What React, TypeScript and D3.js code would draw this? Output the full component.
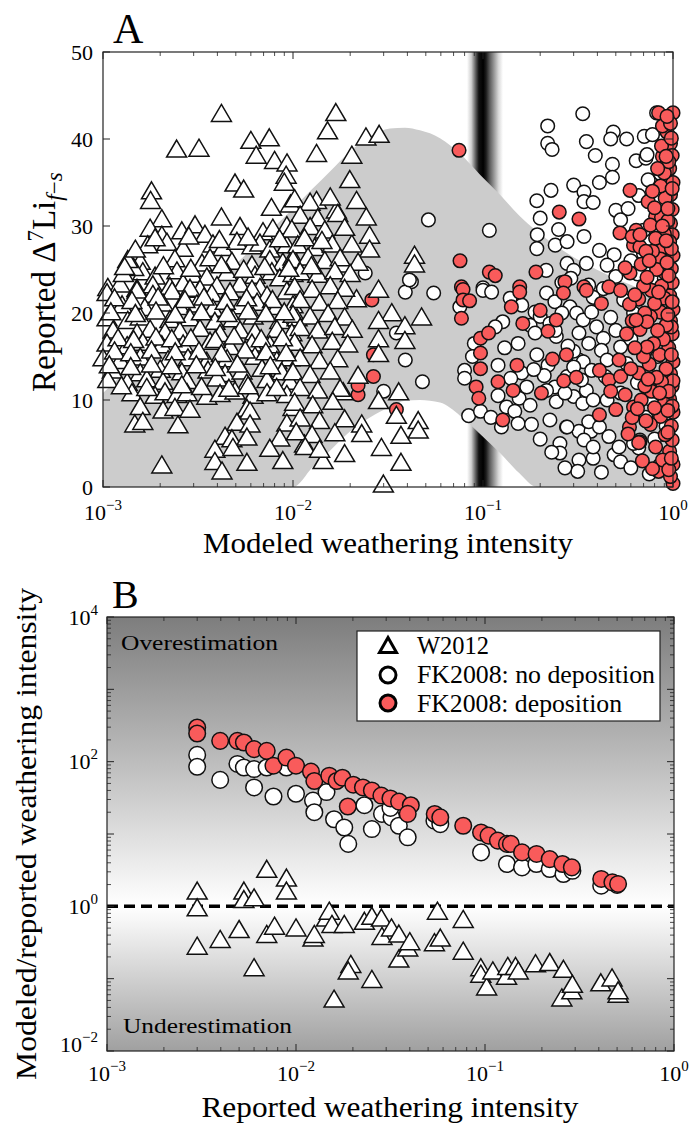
import React from 'react';
import * as d3 from 'd3';

const FONT = '"Liberation Serif", "Times New Roman", serif';
const RED = '#f95b5b';

// ---------- Panel A: model band (weathering intensity vs Δ7Li) ----------
const bandX = [0.001, 0.00177, 0.00324, 0.00594, 0.01, 0.0127, 0.0157, 0.02, 0.0254, 0.0324, 0.0388, 0.0466, 0.0594, 0.0757, 0.0965, 0.123, 0.155, 0.192, 0.254, 0.413, 0.67, 1.0];
const bandUpper = [10.8, 16.0, 21.6, 27.2, 32.0, 34.3, 36.3, 38.6, 40.3, 41.2, 41.3, 41.0, 40.1, 38.3, 35.9, 33.6, 31.2, 29.4, 27.4, 24.8, 22.8, 21.3];
const bandLower = [0, 0, 0, 0, 0, 2.3, 4.2, 6.4, 8.0, 9.2, 9.9, 10.0, 9.7, 8.2, 6.1, 3.9, 1.6, 0, 0, 0, 0, 0];
const bandCenterX = 0.1;

// W2012 (triangles), panel A
const triA: [number, number][] = [
  [0.0042, 43.0], [0.00244, 38.9], [0.0032, 39.0], [0.006, 39.9], [0.0075, 40.2], [0.0064, 38.2], [0.008, 37.6], [0.0093, 37.3], [0.0092, 35.9], [0.009, 35.1], [0.00495, 35.0], [0.0055, 34.3], [0.0018, 34.1], [0.00178, 33.0], [0.0042, 31.1], [0.00204, 30.9], [0.0077, 32.2], [0.0097, 32.6],
  [0.0168, 43.1], [0.0152, 41.0], [0.0242, 40.3], [0.0284, 40.6], [0.0133, 38.4], [0.0204, 38.2], [0.0199, 35.4], [0.0216, 33.0], [0.0243, 31.1], [0.0169, 31.9], [0.0133, 33.0], [0.0253, 29.0], [0.0253, 27.4], [0.0204, 28.0], [0.022, 25.9], [0.0184, 25.7], [0.0436, 26.7], [0.0436, 25.7], [0.0282, 22.8], [0.0216, 21.7], [0.0475, 19.6], [0.0388, 18.6], [0.0331, 20.1], [0.0282, 19.2], [0.0282, 17.1], [0.0388, 16.9], [0.0282, 15.4], [0.022, 12.9], [0.0184, 11.0], [0.036, 11.0], [0.0282, 10.0], [0.035, 8.3], [0.0456, 7.7], [0.0456, 6.6], [0.037, 6.0], [0.023, 7.3], [0.023, 6.2], [0.0292, 4.6], [0.0187, 3.9], [0.0144, 3.1], [0.037, 2.9], [0.0299, 0.4], [0.0115, 5.0],
  [0.00177, 29.8], [0.00204, 29.0], [0.0026, 29.5], [0.00305, 30.2], [0.00344, 29.1], [0.00526, 30.0], [0.00695, 29.4], [0.00783, 29.8], [0.00928, 30.1],
  [0.00172, 27.9], [0.00217, 28.2], [0.00264, 27.5], [0.00379, 28.0], [0.00428, 27.6], [0.00507, 28.3], [0.00608, 27.8], [0.0067, 28.1], [0.00755, 27.4], [0.00928, 27.9],
  [0.00157, 26.0], [0.00239, 26.3], [0.00332, 25.8], [0.00366, 26.4], [0.00477, 26.0], [0.00608, 25.6], [0.00755, 26.2], [0.00884, 25.9], [0.01, 26.5],
  [0.00162, 24.8], [0.00188, 24.3], [0.00245, 24.9], [0.00294, 24.5], [0.00352, 24.2], [0.0045, 24.7], [0.00631, 24.4], [0.00774, 24.8], [0.00852, 24.1], [0.01, 24.6],
  [0.00106, 23.0], [0.00123, 23.4], [0.00151, 22.9], [0.00183, 23.3], [0.00225, 23.1], [0.00264, 23.5], [0.00324, 22.8], [0.00398, 23.2], [0.00526, 23.4], [0.0067, 23.0],
  [0.00105, 22.4], [0.00151, 22.7], [0.00183, 22.2], [0.00231, 22.6], [0.00287, 22.9], [0.00374, 22.3], [0.00466, 22.5], [0.00608, 22.8], [0.0073, 22.1], [0.00928, 22.6],
  [0.00126, 21.0], [0.00166, 20.7], [0.00207, 21.2], [0.00254, 20.8], [0.00312, 21.1], [0.00379, 20.6], [0.00526, 20.9], [0.00647, 21.3], [0.00822, 20.8], [0.01, 21.0],
  [0.00105, 19.5], [0.00135, 19.2], [0.00157, 19.6], [0.00225, 19.3], [0.00287, 19.5], [0.00388, 19.1], [0.00483, 19.4], [0.00616, 19.7], [0.00852, 19.2], [0.0105, 19.5],
  [0.00113, 18.1], [0.00151, 17.8], [0.00177, 18.2], [0.00212, 17.9], [0.00254, 18.0], [0.00324, 18.3], [0.00413, 17.7], [0.00526, 18.1], [0.00631, 17.9], [0.00822, 18.2], [0.00986, 17.8],
  [0.00105, 16.6], [0.00134, 16.3], [0.00162, 16.7], [0.00204, 16.4], [0.00264, 16.5], [0.00366, 16.8], [0.00466, 16.2], [0.00608, 16.6], [0.00755, 16.4], [0.0102, 16.7],
  [0.001, 14.9], [0.00123, 14.6], [0.00157, 15.0], [0.0022, 14.7], [0.0028, 14.9], [0.00352, 14.5], [0.0045, 14.8], [0.00631, 15.1], [0.00822, 14.6], [0.00962, 14.9],
  [0.00112, 13.5], [0.00157, 13.2], [0.002, 13.6], [0.0026, 13.3], [0.00357, 13.5], [0.00439, 13.1], [0.00539, 13.4], [0.00687, 13.7], [0.00873, 13.3],
  [0.00106, 12.4], [0.00134, 12.1], [0.0017, 12.5], [0.00207, 12.2], [0.00277, 12.3], [0.00398, 12.6], [0.00572, 12.0], [0.0073, 12.4], [0.00962, 12.2],
  [0.00142, 10.9], [0.00188, 10.6], [0.00212, 11.0], [0.00245, 10.7], [0.00277, 10.9], [0.00352, 10.5], [0.00413, 10.8], [0.00495, 11.1], [0.00616, 10.6], [0.0073, 10.9], [0.00928, 10.7],
  [0.00157, 9.3], [0.00207, 8.9], [0.00239, 9.2], [0.00287, 9.0], [0.00572, 9.1], [0.00594, 8.8], [0.01, 9.2],
  [0.00147, 7.3], [0.00162, 7.6], [0.00248, 7.2], [0.00507, 7.5], [0.00594, 7.3], [0.00928, 7.4],
  [0.00439, 5.9], [0.00477, 5.6], [0.00572, 5.8], [0.00852, 5.7],
  [0.00388, 4.4], [0.00483, 4.6], [0.00755, 4.5],
  [0.00204, 2.6], [0.00388, 3.0], [0.00572, 2.9], [0.00884, 3.1], [0.00423, 1.9],
  [0.0102, 33.2], [0.0123, 32.8], [0.0157, 33.4],
  [0.0109, 31.3], [0.0135, 31.0], [0.0172, 31.5],
  [0.00986, 29.7], [0.0123, 30.0], [0.0147, 29.6], [0.0187, 29.9],
  [0.0106, 27.9], [0.013, 27.6], [0.0161, 28.0],
  [0.01, 26.2], [0.012, 26.5], [0.0147, 26.1], [0.0177, 26.4],
  [0.0109, 24.8], [0.0135, 24.5], [0.0166, 24.9], [0.02, 24.6],
  [0.0102, 23.1], [0.0126, 22.8], [0.0157, 23.2], [0.0187, 22.9],
  [0.0109, 21.6], [0.0138, 21.3], [0.0172, 21.5],
  [0.01, 19.9], [0.0123, 19.7], [0.0153, 20.0], [0.0187, 19.6],
  [0.0109, 18.4], [0.0135, 18.1], [0.0166, 18.5], [0.0205, 18.2],
  [0.0102, 16.7], [0.0126, 16.4], [0.0161, 16.8], [0.0194, 16.5],
  [0.0109, 14.9], [0.0138, 14.6], [0.0172, 14.8],
  [0.01, 13.3], [0.0123, 13.0], [0.0157, 13.4],
  [0.0109, 11.5], [0.0135, 11.2], [0.0177, 11.4],
  [0.0102, 9.8], [0.0127, 9.5], [0.0162, 9.9],
  [0.0109, 8.0], [0.0138, 7.7], [0.0187, 7.9],
  [0.0104, 6.4], [0.0126, 6.1], [0.0166, 6.3],
  [0.0116, 4.7], [0.0138, 4.4],
  [0.00188, 28.7], [0.00283, 28.9], [0.0041, 28.5], [0.0058, 28.8], [0.0085, 28.6], [0.0115, 28.7], [0.0142, 28.4],
  [0.00145, 25.3], [0.00208, 25.5], [0.0029, 25.2], [0.0042, 25.6], [0.0055, 25.1], [0.0071, 25.4], [0.0095, 25.2], [0.0125, 25.5],
  [0.00115, 21.8], [0.00142, 21.5], [0.00195, 21.9], [0.0027, 21.6], [0.0034, 21.9], [0.0044, 21.4], [0.0057, 21.8], [0.0078, 21.6],
  [0.0011, 20.2], [0.00148, 20.0], [0.0019, 20.3], [0.0024, 19.9], [0.0033, 20.2], [0.0045, 20.0], [0.0058, 20.3], [0.0072, 20.0], [0.009, 20.2],
  [0.0012, 17.2], [0.00145, 17.0], [0.0019, 17.3], [0.0023, 17.1], [0.0029, 17.2], [0.0039, 17.0], [0.0049, 17.4], [0.0068, 17.1], [0.0088, 17.2],
  [0.00115, 15.7], [0.0014, 15.5], [0.0018, 15.8], [0.0024, 15.6], [0.0032, 15.7], [0.0042, 15.4], [0.0056, 15.8], [0.0072, 15.6], [0.0092, 15.5],
  [0.00108, 14.1], [0.0014, 13.9], [0.0018, 14.2], [0.0023, 14.0], [0.0031, 14.1], [0.0039, 13.8], [0.0051, 14.2], [0.0076, 14.0],
  [0.00125, 11.7], [0.0017, 11.5], [0.0026, 11.8], [0.0033, 11.6], [0.0046, 11.4], [0.0058, 11.7], [0.0082, 11.5],
  [0.00128, 24.6], [0.00135, 26.2], [0.00148, 27.4], [0.0013, 25.4],
];

// FK2008 no deposition (open circles), panel A
const openA: [number, number][] = [
  [0.0516, 30.7], [0.042, 23.6], [0.039, 22.4], [0.055, 22.3], [0.039, 14.6], [0.048, 12.1], [0.024, 24.6], [0.03, 11.0], [0.035, 17.7], [0.041, 23.8],
  [0.335, 42.9], [0.219, 41.5], [0.219, 39.5], [0.231, 38.8], [0.485, 40.8], [0.47, 40.0], [0.57, 40.0], [0.706, 40.3], [0.35, 39.7], [0.39, 38.1], [0.48, 37.1], [0.48, 35.6], [0.64, 37.5], [0.72, 37.8], [0.74, 35.3], [0.3, 34.7], [0.41, 35.0], [0.228, 34.1], [0.192, 32.9], [0.34, 33.9], [0.34, 32.8], [0.38, 32.7], [0.2, 30.9], [0.25, 29.6], [0.108, 29.5], [0.193, 29.0], [0.192, 27.4], [0.24, 27.8], [0.277, 28.2], [0.34, 28.8], [0.5, 31.8], [0.58, 32.0], [0.53, 30.7], [0.7, 29.5], [0.41, 27.2], [0.49, 26.7], [0.35, 25.7], [0.45, 25.5], [0.277, 25.7], [0.3, 24.9], [0.215, 24.9], [0.1, 22.9],
  [0.0755, 20.7], [0.1, 22.6], [0.111, 22.4], [0.139, 21.7], [0.16, 20.9], [0.127, 19.0], [0.116, 18.4], [0.188, 20.1], [0.177, 18.6], [0.08, 13.4], [0.08, 12.5], [0.084, 8.2], [0.097, 8.7], [0.153, 16.5], [0.16, 13.1], [0.155, 10.2], [0.133, 9.2], [0.147, 8.7], [0.125, 6.9], [0.153, 7.3], [0.177, 9.4], [0.192, 15.2], [0.225, 7.7], [0.243, 9.8], [0.275, 6.9], [0.254, 5.0], [0.254, 3.9], [0.32, 14.6], [0.3, 10.4], [0.335, 9.6], [0.32, 6.4], [0.37, 6.4], [0.32, 3.1], [0.315, 1.8], [0.38, 3.3], [0.49, 3.7], [0.53, 2.9],
  [0.216, 22.3], [0.239, 21.3], [0.2, 19.6], [0.225, 18.8], [0.188, 17.7], [0.243, 17.3], [0.287, 20.7], [0.311, 20.0], [0.337, 19.2], [0.373, 20.1], [0.396, 18.4], [0.32, 17.7], [0.36, 16.5], [0.43, 17.1], [0.42, 15.7], [0.5, 18.0], [0.3, 15.6], [0.337, 14.4], [0.373, 13.4], [0.45, 14.6], [0.53, 16.1], [0.57, 14.2], [0.277, 12.7], [0.239, 11.5], [0.216, 11.1], [0.27, 10.8], [0.35, 11.1], [0.38, 10.0], [0.45, 10.0], [0.53, 10.8], [0.36, 7.5], [0.41, 6.9], [0.46, 5.8], [0.34, 5.4], [0.38, 4.6], [0.52, 4.6], [0.277, 6.9],
  [0.26, 23.5], [0.29, 24.0], [0.36, 23.2], [0.43, 22.8], [0.5, 24.2], [0.6, 26.0], [0.65, 24.5], [0.7, 26.8], [0.55, 21.5], [0.62, 20.0], [0.47, 19.5], [0.38, 21.8], [0.28, 16.2], [0.3, 13.8], [0.22, 14.0], [0.21, 12.8], [0.33, 12.3], [0.44, 12.7], [0.24, 18.0], [0.26, 20.0], [0.6, 17.0], [0.65, 12.0], [0.72, 8.0], [0.66, 4.5], [0.6, 2.2], [0.75, 1.5], [0.8, 5.5], [0.42, 1.7], [0.27, 2.2], [0.23, 4.0], [0.2, 5.5], [0.18, 7.2], [0.17, 11.5], [0.185, 13.5], [0.14, 12.5], [0.12, 14.0], [0.13, 16.0], [0.12, 10.5], [0.11, 8.0], [0.09, 16.5], [0.088, 15.0],
  [0.78, 40.5], [0.86, 36.0], [0.9, 24.0], [0.83, 15.0], [0.77, 10.0], [0.92, 7.0], [0.85, 2.5], [0.82, 43.0], [0.66, 33.5], [0.73, 38.2], [0.63, 28.5], [0.62, 5.0], [0.67, 5.4],
];

// FK2008 deposition (red circles), panel A
const redA: [number, number][] = [
  [0.0265, 12.7], [0.0265, 15.2], [0.022, 10.6], [0.035, 8.9], [0.026, 21.5], [0.022, 11.7],
  [0.0748, 38.7], [0.84, 43.0], [1.0, 43.0], [0.93, 40.8], [0.88, 41.5], [0.97, 39.5], [0.88, 38.0], [0.93, 37.2], [0.93, 35.7], [0.594, 34.1], [0.74, 32.8], [0.252, 31.6], [0.32, 30.8], [0.526, 29.2], [0.62, 27.8], [0.81, 31.1], [0.97, 30.3], [0.99, 29.0], [0.89, 27.6], [0.0757, 26.0], [0.108, 24.7], [0.116, 24.3], [0.19, 24.7], [0.594, 24.6], [0.79, 26.1], [0.077, 23.0], [0.156, 23.0], [0.27, 23.6], [0.34, 23.0], [0.46, 23.0], [0.0785, 22.7], [0.0785, 21.5], [0.085, 21.4], [0.077, 19.4], [0.156, 22.4], [0.141, 20.7], [0.162, 18.8], [0.2, 20.3], [0.243, 19.2], [0.265, 22.3], [0.35, 22.6], [0.42, 21.1], [0.53, 22.6], [0.097, 17.1], [0.107, 17.7], [0.097, 15.4], [0.097, 13.6], [0.092, 11.5], [0.095, 10.2], [0.151, 14.0], [0.12, 12.1], [0.144, 11.1], [0.127, 7.7], [0.203, 10.8], [0.22, 17.9], [0.232, 14.7], [0.266, 12.2], [0.275, 15.2], [0.31, 12.6], [0.41, 13.4], [0.46, 12.3], [0.47, 11.0], [0.5, 8.9], [0.41, 8.3], [0.52, 14.6], [0.53, 12.7], [0.62, 9.2], [0.67, 5.2], [0.59, 6.9], [0.84, 1.8], [1.0, 0.4], [0.64, 29.5], [0.61, 28.8], [0.67, 27.6],
  [0.97, 1.2], [1.0, 2.6], [0.96, 4.1], [0.99, 5.4], [0.98, 7.0], [1.0, 8.6], [0.96, 10.1], [0.99, 11.6], [0.97, 13.0], [1.0, 14.4], [0.95, 16.0], [0.99, 17.6], [0.97, 19.1], [1.0, 20.4], [0.96, 22.0], [0.99, 23.5], [0.98, 25.1], [1.0, 26.6], [0.96, 28.2], [0.99, 31.9], [0.97, 33.6], [1.0, 35.0], [0.96, 36.6], [0.99, 38.1], [0.97, 41.8], [1.0, 12.2], [0.98, 18.4],
  [0.88, 3.1], [0.91, 6.0], [0.86, 8.1], [0.9, 9.6], [0.87, 12.1], [0.92, 13.6], [0.85, 15.2], [0.89, 17.0], [0.92, 18.6], [0.86, 20.1], [0.9, 21.7], [0.87, 23.1], [0.91, 24.6], [0.86, 26.2], [0.9, 29.1], [0.87, 31.0], [0.91, 33.2], [0.86, 34.6], [0.9, 36.1], [0.87, 39.2],
  [0.78, 2.1], [0.81, 4.6], [0.76, 7.2], [0.8, 9.1], [0.77, 11.0], [0.82, 12.6], [0.75, 14.1], [0.79, 16.5], [0.83, 18.0], [0.76, 19.6], [0.8, 21.1], [0.77, 22.6], [0.82, 25.0], [0.78, 27.1], [0.81, 28.6], [0.76, 30.1], [0.8, 32.1], [0.78, 34.0],
  [0.69, 3.0], [0.66, 5.1], [0.72, 7.6], [0.68, 10.0], [0.71, 11.6], [0.66, 13.1], [0.7, 15.0], [0.73, 16.1], [0.67, 18.1], [0.71, 20.0], [0.66, 21.6], [0.7, 23.1], [0.73, 24.1], [0.68, 25.6], [0.72, 27.1], [0.67, 29.0],
  [0.58, 6.1], [0.61, 8.0], [0.56, 10.6], [0.6, 13.6], [0.63, 16.0], [0.57, 17.6], [0.61, 19.1], [0.59, 21.0], [0.63, 22.1], [0.56, 25.2],
  [0.95, 2.0], [0.98, 3.3], [0.94, 6.3], [0.99, 9.3], [0.95, 11.0], [0.98, 15.2], [0.94, 19.8], [0.99, 21.3], [0.95, 24.3], [0.98, 27.4], [0.94, 30.6], [0.99, 34.3], [0.95, 37.4], [0.98, 40.1], [0.93, 42.6], [0.94, 8.8], [0.93, 25.8], [0.92, 28.3], [0.94, 32.0], [0.85, 10.8], [0.84, 22.4], [0.88, 30.0], [0.92, 38.0], [0.83, 36.6], [0.74, 12.4], [0.73, 19.0], [0.75, 26.0], [0.65, 9.0], [0.64, 19.2],
];

// ---------- Panel B: reported intensity vs modeled/reported ratio ----------
const triB: [number, number][] = [
  [0.003, 1.65], [0.003, 0.97], [0.003, 0.286], [0.00397, 0.354], [0.005, 0.486], [0.0053, 1.65], [0.0053, 1.26], [0.006, 1.33], [0.006, 0.144], [0.007, 3.3], [0.007, 0.416], [0.0077, 0.54], [0.0089, 2.5], [0.0089, 1.65], [0.01, 0.51], [0.0123, 0.37], [0.0125, 0.416], [0.0145, 0.7], [0.015, 0.87], [0.0155, 0.57], [0.0159, 0.053], [0.018, 0.57], [0.0195, 0.16], [0.0189, 0.13], [0.023, 0.63], [0.0252, 0.74], [0.0283, 0.7], [0.0252, 0.099], [0.0285, 0.39], [0.032, 0.51], [0.035, 0.42], [0.035, 0.19], [0.039, 0.27], [0.04, 0.33], [0.054, 0.32], [0.058, 0.37], [0.056, 0.87], [0.0767, 0.67], [0.0767, 0.244], [0.095, 0.144], [0.095, 0.117], [0.102, 0.078], [0.11, 0.13], [0.13, 0.11], [0.132, 0.15], [0.145, 0.15], [0.15, 0.13], [0.185, 0.164], [0.22, 0.17], [0.26, 0.137], [0.255, 0.055], [0.288, 0.069], [0.29, 0.085], [0.41, 0.089], [0.47, 0.104], [0.506, 0.062], [0.506, 0.069],
];
const openB: [number, number][] = [
  [0.003, 124], [0.003, 85], [0.00397, 56], [0.0049, 93], [0.0053, 83], [0.006, 79], [0.007, 83], [0.006, 44], [0.0076, 33], [0.0089, 83], [0.01, 36], [0.0123, 29], [0.0125, 20], [0.0159, 16], [0.018, 12.3], [0.0189, 7.3], [0.0145, 38], [0.023, 25], [0.0252, 11.7], [0.0285, 19], [0.032, 17], [0.035, 13], [0.039, 9.0], [0.0316, 23], [0.054, 15.3], [0.058, 13.7], [0.0953, 5.57], [0.1306, 3.85], [0.157, 3.46], [0.187, 3.85], [0.22, 3.28], [0.26, 2.8], [0.29, 3.1], [0.412, 1.93], [0.5, 1.98],
];
const redB: [number, number][] = [
  [0.003, 297], [0.003, 245], [0.00397, 194], [0.0049, 194], [0.0053, 184], [0.006, 149], [0.007, 141], [0.0076, 88], [0.0089, 114], [0.01, 88], [0.012, 73], [0.0125, 54], [0.015, 64], [0.0164, 54], [0.0176, 60], [0.0188, 24], [0.0201, 48], [0.0226, 44], [0.0252, 40], [0.0283, 34], [0.0316, 31], [0.0351, 28], [0.0405, 25], [0.039, 19], [0.0542, 18.9], [0.058, 17], [0.0767, 13], [0.0953, 10.5], [0.1044, 9.5], [0.117, 8.1], [0.1306, 7.3], [0.137, 7.3], [0.157, 5.57], [0.1874, 5.3], [0.22, 4.5], [0.257, 3.85], [0.288, 3.46], [0.412, 2.39], [0.472, 2.15], [0.506, 2.04],
];

const yTicksA = [0, 10, 20, 30, 40, 50];
const xTickExp = [-3, -2, -1, 0];
const yTickExpB = [-2, 0, 2, 4];
const legendLabels = ['W2012', 'FK2008: no deposition', 'FK2008: deposition'];

const sup = (e: number) => (e < 0 ? '\u2212' + Math.abs(e) : String(e));
const triPath = (cx: number, cy: number, w: number, h: number) =>
  `M${cx},${cy - h / 2}L${cx + w / 2},${cy + h / 2}L${cx - w / 2},${cy + h / 2}Z`;
const minorLog = (lo: number, hi: number) => {
  const out: number[] = [];
  for (let e = lo; e < hi; e++) for (let k = 2; k < 10; k++) out.push(k * Math.pow(10, e));
  return out;
};

export default function App() {
  const xA = d3.scaleLog().domain([1e-3, 1]).range([103, 673]);
  const yA = d3.scaleLinear().domain([0, 50]).range([487, 52]);
  const xB = d3.scaleLog().domain([1e-3, 1]).range([107, 674]);
  const yB = d3.scaleLog().domain([1e-2, 1e4]).range([1051, 617]);

  const band = d3
    .area<number>()
    .x((d) => xA(d))
    .y0((_, i) => yA(bandLower[i]))
    .y1((_, i) => yA(bandUpper[i]))
    .curve(d3.curveMonotoneX)(bandX) as string;

  const [ax0, ax1] = xA.range();
  const [ay0, ay1] = yA.range();
  const [bx0, bx1] = xB.range();
  const [by0, by1] = yB.range();
  const bc = xA(bandCenterX);

  const minorX = minorLog(-3, 0);
  const minorYB = minorLog(-2, 4);
  const majorYB = d3.range(-2, 5).map((e) => Math.pow(10, e));

  const stroke = '#111';
  const TW = 20, TH = 17, RA = 6.8, RB = 8.3;
  const TF = 22, SF = 15;

  return (
    <svg width={692} height={1125} style={{ position: 'absolute', left: 0, top: 0, background: '#fff' }} fontFamily={FONT}>
      <defs>
        <linearGradient id="vband" x1="0" y1="0" x2="1" y2="0">
          <stop offset="0" stopColor="#ffffff" />
          <stop offset="0.12" stopColor="#cfcfcf" />
          <stop offset="0.25" stopColor="#555" />
          <stop offset="0.33" stopColor="#111" />
          <stop offset="0.45" stopColor="#000" />
          <stop offset="0.53" stopColor="#1c1c1c" />
          <stop offset="0.63" stopColor="#5a5a5a" />
          <stop offset="0.76" stopColor="#9c9c9c" />
          <stop offset="0.88" stopColor="#dadada" />
          <stop offset="1" stopColor="#ffffff" />
        </linearGradient>
        <linearGradient id="bgB" x1="0" y1="0" x2="0" y2="1">
          <stop offset="0" stopColor="#7d7d7d" />
          <stop offset="0.33" stopColor="#bcbcbc" />
          <stop offset="0.63" stopColor="#f8f8f8" />
          <stop offset="0.665" stopColor="#ffffff" />
          <stop offset="0.7" stopColor="#f6f6f6" />
          <stop offset="1" stopColor="#a0a0a0" />
        </linearGradient>
      </defs>

      {/* ================= Panel A ================= */}
      <rect x={ax0} y={ay1} width={ax1 - ax0} height={ay0 - ay1} fill="#fff" />
      <rect x={bc - 16} y={ay1} width={36} height={ay0 - ay1} fill="url(#vband)" />
      <path d={band} fill="#cccccc" />
      {openA.map(([x, y], i) => (
        <circle key={'oa' + i} cx={xA(x)} cy={yA(y)} r={RA} fill="#fff" stroke={stroke} strokeWidth={1.5} />
      ))}
      {redA.map(([x, y], i) => (
        <circle key={'ra' + i} cx={xA(x)} cy={yA(y)} r={RA} fill={RED} stroke={stroke} strokeWidth={1.5} />
      ))}
      {triA.map(([x, y], i) => (
        <path key={'ta' + i} d={triPath(xA(x), yA(y), TW, TH)} fill="#fff" stroke={stroke} strokeWidth={1.5} />
      ))}
      <rect x={ax0} y={ay1} width={ax1 - ax0} height={ay0 - ay1} fill="none" stroke="#222" strokeWidth={1.2} />
      {xTickExp.map((e) => {
        const x = xA(Math.pow(10, e));
        return (
          <g key={'axt' + e}>
            <line x1={x} x2={x} y1={ay0} y2={ay0 - 7} stroke="#222" strokeWidth={1} />
            <line x1={x} x2={x} y1={ay1} y2={ay1 + 7} stroke="#222" strokeWidth={1} />
            <text x={x} y={520} textAnchor="middle" fontSize={TF}>
              <tspan>10</tspan>
              <tspan dy={-10} fontSize={SF}>{sup(e)}</tspan>
            </text>
          </g>
        );
      })}
      {minorX.map((v, i) => (
        <g key={'axm' + i}>
          <line x1={xA(v)} x2={xA(v)} y1={ay0} y2={ay0 - 4} stroke="#222" strokeWidth={0.8} />
          <line x1={xA(v)} x2={xA(v)} y1={ay1} y2={ay1 + 4} stroke="#222" strokeWidth={0.8} />
        </g>
      ))}
      {yTicksA.map((v) => (
        <g key={'ayt' + v}>
          <line x1={ax0} x2={ax0 + 7} y1={yA(v)} y2={yA(v)} stroke="#222" strokeWidth={1} />
          <line x1={ax1} x2={ax1 - 7} y1={yA(v)} y2={yA(v)} stroke="#222" strokeWidth={1} />
          <text x={93} y={yA(v) + 7.5} textAnchor="end" fontSize={TF}>{v}</text>
        </g>
      ))}
      <text x={113} y={43} fontSize={42}>A</text>
      <text x={388} y={553} textAnchor="middle" fontSize={30} textLength={370} lengthAdjust="spacingAndGlyphs">
        Modeled weathering intensity
      </text>
      <text transform="translate(55,392) rotate(-90)" fontSize={33}>
        <tspan>Reported Δ</tspan>
        <tspan dy={-12} fontSize={23}>7</tspan>
        <tspan dy={12}>Li</tspan>
        <tspan dy={7} fontSize={23} fontStyle="italic">f</tspan>
        <tspan fontSize={23}>{'\u2212'}</tspan>
        <tspan fontSize={23} fontStyle="italic">s</tspan>
      </text>

      {/* ================= Panel B ================= */}
      <rect x={bx0} y={by1} width={bx1 - bx0} height={by0 - by1} fill="url(#bgB)" />
      <line x1={bx0} x2={bx1} y1={yB(1)} y2={yB(1)} stroke="#000" strokeWidth={3.5} strokeDasharray="11 6" />
      <text x={121} y={650} fontSize={22} textLength={157} lengthAdjust="spacingAndGlyphs">Overestimation</text>
      <text x={123} y={1033} fontSize={22} textLength={169} lengthAdjust="spacingAndGlyphs">Underestimation</text>
      {triB.map(([x, y], i) => (
        <path key={'tb' + i} d={triPath(xB(x), yB(y), TW, TH)} fill="#fff" stroke={stroke} strokeWidth={1.5} />
      ))}
      {openB.map(([x, y], i) => (
        <circle key={'ob' + i} cx={xB(x)} cy={yB(y)} r={RB} fill="#fff" stroke={stroke} strokeWidth={1.5} />
      ))}
      {redB.map(([x, y], i) => (
        <circle key={'rb' + i} cx={xB(x)} cy={yB(y)} r={RB} fill={RED} stroke={stroke} strokeWidth={1.5} />
      ))}
      <rect x={bx0} y={by1} width={bx1 - bx0} height={by0 - by1} fill="none" stroke="#222" strokeWidth={1.2} />
      {xTickExp.map((e) => {
        const x = xB(Math.pow(10, e));
        return (
          <g key={'bxt' + e}>
            <line x1={x} x2={x} y1={by0} y2={by0 - 7} stroke="#222" strokeWidth={1} />
            <line x1={x} x2={x} y1={by1} y2={by1 + 7} stroke="#222" strokeWidth={1} />
            <text x={x} y={1081} textAnchor="middle" fontSize={TF}>
              <tspan>10</tspan>
              <tspan dy={-10} fontSize={SF}>{sup(e)}</tspan>
            </text>
          </g>
        );
      })}
      {minorX.map((v, i) => (
        <g key={'bxm' + i}>
          <line x1={xB(v)} x2={xB(v)} y1={by0} y2={by0 - 4} stroke="#222" strokeWidth={0.8} />
          <line x1={xB(v)} x2={xB(v)} y1={by1} y2={by1 + 4} stroke="#222" strokeWidth={0.8} />
        </g>
      ))}
      {majorYB.map((v, i) => (
        <g key={'bym' + i}>
          <line x1={bx0} x2={bx0 + 7} y1={yB(v)} y2={yB(v)} stroke="#222" strokeWidth={1} />
          <line x1={bx1} x2={bx1 - 7} y1={yB(v)} y2={yB(v)} stroke="#222" strokeWidth={1} />
        </g>
      ))}
      {minorYB.map((v, i) => (
        <g key={'byn' + i}>
          <line x1={bx0} x2={bx0 + 4} y1={yB(v)} y2={yB(v)} stroke="#222" strokeWidth={0.8} />
          <line x1={bx1} x2={bx1 - 4} y1={yB(v)} y2={yB(v)} stroke="#222" strokeWidth={0.8} />
        </g>
      ))}
      {yTickExpB.map((e) => {
        const y = Math.min(yB(Math.pow(10, e)), 1044) + 7.5;
        return (
          <text key={'byl' + e} x={98} y={y} textAnchor="end" fontSize={TF}>
            <tspan>10</tspan>
            <tspan dy={-10} fontSize={SF}>{sup(e)}</tspan>
          </text>
        );
      })}
      <text x={112} y={608} fontSize={40}>B</text>
      <text x={390} y={1117} textAnchor="middle" fontSize={30} textLength={377} lengthAdjust="spacingAndGlyphs">
        Reported weathering intensity
      </text>
      <text transform="translate(36,834) rotate(-90)" textAnchor="middle" fontSize={30} textLength={492} lengthAdjust="spacingAndGlyphs">
        Modeled/reported weathering intensity
      </text>

      {/* legend */}
      <rect x={357} y={631} width={303} height={90} fill="#fff" stroke="#222" strokeWidth={1.2} />
      <path d={triPath(388, 645, 17, 15)} fill="#fff" stroke="#000" strokeWidth={3} strokeLinejoin="miter" />
      <circle cx={388} cy={675} r={8} fill="#fff" stroke="#000" strokeWidth={3} />
      <circle cx={388} cy={703} r={8} fill={RED} stroke="#000" strokeWidth={3} />
      {legendLabels.map((t, i) => (
        <text key={t} x={417} y={654 + i * 29} fontSize={25} textLength={[72, 238, 205][i]} lengthAdjust="spacingAndGlyphs">
          {t}
        </text>
      ))}
    </svg>
  );
}
